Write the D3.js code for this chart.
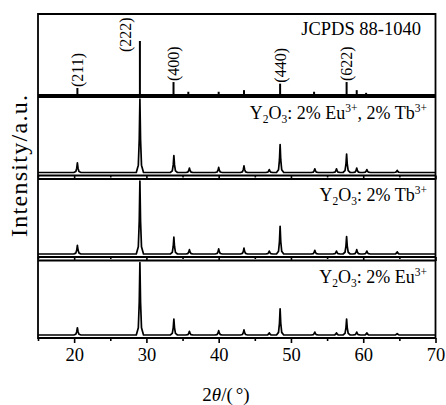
<!DOCTYPE html>
<html>
<head>
<meta charset="utf-8">
<script src="https://cdn.jsdelivr.net/npm/d3@7"></script>
<style>
  html, body { margin: 0; padding: 0; background: #fff; }
  svg { display: block; }
  text { font-family: "Liberation Serif", "Times New Roman", serif; fill: #000; }
</style>
</head>
<body>
<svg id="chart" width="446" height="405"></svg>
<script>
// ---------------- data ----------------
const peakPositions = [20.45, 29.1, 33.8, 35.95, 40.0, 43.5, 47.0, 48.5, 53.3, 56.3, 57.7, 59.1, 60.5, 64.7];
const intensityEuTb = [13, 100, 23, 6, 7, 9, 4, 38, 5, 5, 25, 6, 4, 3];
const intensityTb   = [12, 100, 23, 6, 7, 8, 4, 38, 5, 4, 24, 6, 4, 3];
const intensityEu   = [10, 100, 22, 5, 6, 7, 3, 36, 4, 3, 22, 4, 3, 2];

const jcpdsPositions = [20.45, 29.1, 33.75, 35.8, 40.0, 43.5, 48.5, 53.2, 57.7, 59.1, 60.4];
const jcpdsIntensity = [13, 100, 24, 6, 6, 9, 21, 6, 24, 9, 4];

const hklLabels    = ["(211)", "(222)", "(400)", "(440)", "(622)"];
const hklPositions = [20.45, 29.1, 33.75, 48.5, 57.7];

const sampleNames = ["Eu,Tb", "Tb", "Eu"];
const xTicksMajor = [20, 30, 40, 50, 60, 70];
const xTicksMinor = [15, 25, 35, 45, 55, 65];

// ---------------- layout ----------------
const svg = d3.select("#chart");
const left = 38, right = 435.5;
const panels = [
  {top: 14,  bottom: 95},
  {top: 97,  bottom: 175.5},
  {top: 179, bottom: 257},
  {top: 260.5, bottom: 338}
];
const x = d3.scaleLinear().domain([15, 70]).range([left, right]);
const FONT = '"Liberation Serif", "Times New Roman", serif';

// ---------------- panel 1 : JCPDS sticks ----------------
{
  const p = panels[0];
  const y = d3.scaleLinear().domain([0, 100]).range([p.bottom, p.bottom - 54]);
  const sticks = jcpdsPositions.map((d, i) => ({pos: d, val: jcpdsIntensity[i]}));
  svg.append("g").selectAll("line").data(sticks).join("line")
    .attr("x1", d => x(d.pos)).attr("x2", d => x(d.pos))
    .attr("y1", y(0)).attr("y2", d => y(d.val))
    .attr("stroke", "#000").attr("stroke-width", 2);

  const labLen = 35;
  hklLabels.forEach((lab, i) => {
    const pos = hklPositions[i];
    const idx = jcpdsPositions.indexOf(pos);
    const topY = y(jcpdsIntensity[idx]);
    let cx = x(pos), by = topY - 1;
    if (by - labLen < p.top) { // not enough room: put it beside the stick
      cx = x(pos) - 14; by = topY + 11;
    }
    svg.append("text")
      .attr("transform", `translate(${cx + 5.5},${by}) rotate(-90)`)
      .attr("font-size", 16).attr("text-anchor", "start")
      .text(lab);
  });

  svg.append("text").attr("x", 421).attr("y", 35)
    .attr("font-size", 18.5).attr("text-anchor", "end").text("JCPDS 88-1040");
}

// ---------------- sample panels ----------------
const seriesList = [intensityEuTb, intensityTb, intensityEu];
function profile(vals) {
  const pts = [[15, 0]];
  peakPositions.forEach((p, i) => {
    const h = vals[i];
    pts.push([p - 0.5, 0], [p - 0.22, 0.1 * h], [p - 0.09, 0.45 * h], [p, h],
             [p + 0.09, 0.45 * h], [p + 0.22, 0.1 * h], [p + 0.5, 0]);
  });
  pts.push([70, 0]);
  return pts;
}

const labelInfo = [
  [["Y", 0], ["2", -1], ["O", 0], ["3", -1], [": 2% Eu", 0], ["3+", 1], [", 2% Tb", 0], ["3+", 1]],
  [["Y", 0], ["2", -1], ["O", 0], ["3", -1], [": 2% Tb", 0], ["3+", 1]],
  [["Y", 0], ["2", -1], ["O", 0], ["3", -1], [": 2% Eu", 0], ["3+", 1]]
];

seriesList.forEach((vals, k) => {
  const p = panels[k + 1];
  const y = d3.scaleLinear().domain([0, 100]).range([p.bottom - 3, p.top + 2]);
  const line = d3.line().x(d => x(d[0])).y(d => y(d[1]));
  svg.append("path").datum(profile(vals))
    .attr("d", line).attr("fill", "none").attr("stroke", "#000")
    .attr("stroke-width", 1.7).attr("stroke-linejoin", "round");

  const t = svg.append("text").attr("x", 427).attr("y", p.top + 22)
    .attr("font-size", 18).attr("text-anchor", "end");
  let prevShift = 0;
  labelInfo[k].forEach(([s, sh]) => {
    const dy = (sh === -1 ? 4 : sh === 1 ? -7 : 0) - prevShift;
    t.append("tspan").attr("dy", dy)
      .attr("font-size", sh === 0 ? 18 : 11.5).text(s);
    prevShift = sh === -1 ? 4 : sh === 1 ? -7 : 0;
  });
});

// ---------------- frames ----------------
panels.forEach((p, i) => {
  svg.append("line").attr("x1", left).attr("x2", right)
    .attr("y1", p.top).attr("y2", p.top).attr("stroke", "#000").attr("stroke-width", 1.8);
  svg.append("line").attr("x1", left).attr("x2", right)
    .attr("y1", p.bottom).attr("y2", p.bottom).attr("stroke", "#000").attr("stroke-width", 1.8);
});
svg.append("line").attr("x1", left).attr("x2", left).attr("y1", 13.1).attr("y2", 338.9)
  .attr("stroke", "#000").attr("stroke-width", 1.8);
svg.append("line").attr("x1", right).attr("x2", right).attr("y1", 13.1).attr("y2", 338.9)
  .attr("stroke", "#000").attr("stroke-width", 1.8);

// ---------------- axes ----------------
[1, 2, 3].forEach(i => {
  const p = panels[i];
  const last = i === 3;
  const gMaj = svg.append("g").attr("transform", `translate(0,${p.bottom})`)
    .call(d3.axisBottom(x).tickValues(xTicksMajor).tickSize(last ? 5 : 4).tickPadding(5)
      .tickFormat(last ? d3.format("d") : () => ""));
  gMaj.select(".domain").remove();
  gMaj.selectAll("line").attr("stroke-width", 1.6);
  gMaj.selectAll("text").attr("font-size", 18.5).attr("font-family", FONT);
  const gMin = svg.append("g").attr("transform", `translate(0,${p.bottom})`)
    .call(d3.axisBottom(x).tickValues(xTicksMinor).tickSize(last ? 3 : 2).tickFormat(() => ""));
  gMin.select(".domain").remove();
  gMin.selectAll("line").attr("stroke-width", 1.6);
});

// ---------------- axis titles ----------------
svg.append("text")
  .attr("transform", "translate(27,166) rotate(-90)")
  .attr("font-size", 24).attr("text-anchor", "middle")
  .attr("textLength", 142).attr("lengthAdjust", "spacing")
  .text("Intensity/a.u.");

const xt = svg.append("text").attr("x", 226).attr("y", 401)
  .attr("font-size", 19).attr("text-anchor", "middle");
xt.append("tspan").text("2");
xt.append("tspan").attr("font-style", "italic").text("θ");
xt.append("tspan").text("/(");
xt.append("tspan").attr("dx", 3).text("°");
xt.append("tspan").text(")");
</script>
</body>
</html>
